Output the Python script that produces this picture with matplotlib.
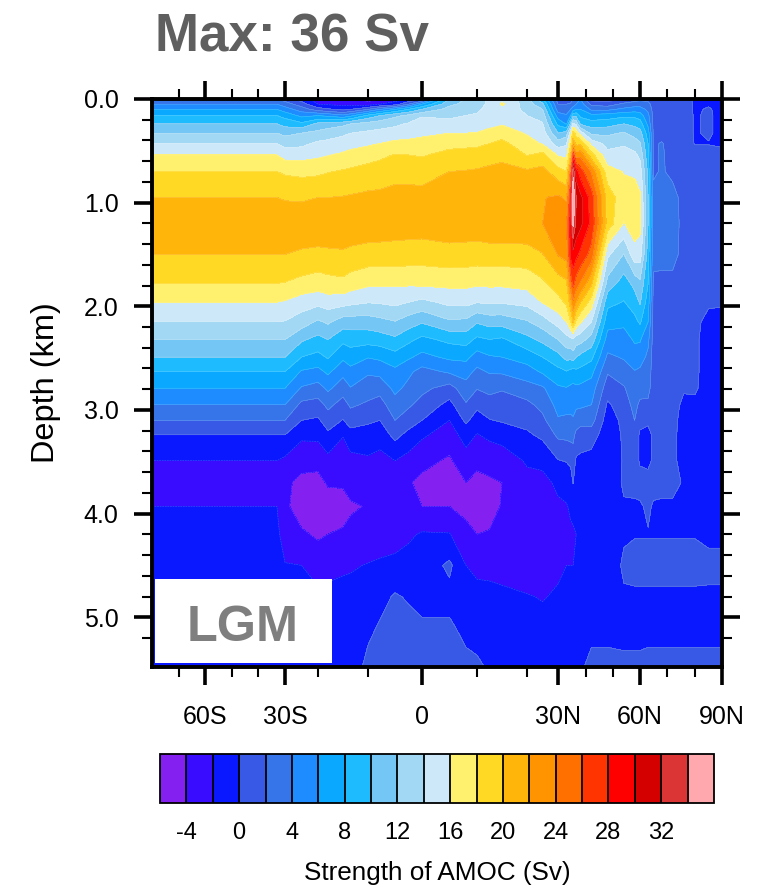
import numpy as np
import matplotlib
matplotlib.use('Agg')
import matplotlib.pyplot as plt
from matplotlib.colors import ListedColormap, BoundaryNorm
from matplotlib.cm import ScalarMappable
from matplotlib.patches import Rectangle

plt.rcParams['font.family'] = ['Liberation Sans', 'DejaVu Sans']
plt.rcParams['axes.unicode_minus'] = False

# depth rows (km)
depth = [0, .05, .1, .16, .24, .33, .43, .54, .7, .95, 1.2, 1.5, 1.78, 1.96, 2.15,
         2.32, 2.49, 2.63, 2.79, 2.95, 3.1, 3.24, 3.49, 3.7, 3.93, 4.2, 4.5, 4.8, 5.1, 5.48]

lat = [-80, -33, -30, -25, -20, -18, -15, -13.5, -10, -7.8, -5, -2.5, 0, 5, 8, 10, 12.5, 15, 20, 25, 30,
       33, 34.5, 35.4, 36.5, 38, 42, 48, 54, 58, 60, 63, 65, 68, 72, 76, 80, 85, 90]

# one line per latitude, top to bottom (Sv)
amoc = [
    [2, 4, 6, 8, 10, 12, 14, 16, 18, 20, 21.5, 20, 18, 16, 14, 12, 10, 8, 6, 4, 2, 0, -2, -3, -2, -1.5, -1.2, -1, -1, -1],
    [2, 4, 6, 8, 10, 12, 14, 16, 18, 20, 21.5, 20, 18, 16, 14, 12, 10, 8, 6, 4, 2, 0, -2, -3, -2, -1.5, -1.2, -1, -1, -1],
    [1, 3, 5, 7.3, 9.3, 11.5, 13.3, 15.2, 17.7, 19.8, 21.4, 20, 17.9, 15.8, 13.9, 12, 10, 8, 6, 4, 2, 0, -2.4, -3.6, -3.6, -3, -1.9, -1.3, -1, -1],
    [-1, 1, 3, 5.5, 8.5, 12, 13.5, 15.2, 17.5, 19.7, 21.4, 19.7, 17.4, 15, 13, 10.3, 8, 5.8, 3.8, 1.5, 0, -1.6, -3.3, -4.5, -5, -3.7, -2, -1.4, -1.1, -1],
    [-3, -2, 1, 6, 10.5, 12.6, 14.4, 15.6, 17.6, 20, 21.5, 19.5, 17, 14.6, 11.7, 9.4, 7.4, 5.4, 3.2, 1.2, -.3, -1.5, -3.5, -4.5, -5, -4.3, -2.8, -1.6, -1.2, -1],
    [-3, -2.3, .3, 5.5, 11, 13, 14.6, 15.9, 17.9, 20, 21.5, 19.6, 17.3, 15, 12.3, 10, 8.2, 6.4, 4.4, 2.5, 1, -.4, -2.6, -3.8, -4.8, -4, -2.6, -1.5, -1.2, -1],
    [-3, -2.5, -.5, 4.5, 11.5, 13.6, 15, 16.3, 18.2, 20.1, 21.5, 19.7, 17.5, 14.8, 11, 8.5, 6.4, 4.6, 2.9, 1.2, -.1, -1.9, -3, -3.8, -4.6, -3.8, -2.3, -1.4, -1.1, -1],
    [-3.5, -2.7, 0, 5.5, 12, 14, 15.3, 16.6, 18.4, 20.2, 21.4, 19.5, 17, 14.5, 11, 8.8, 7, 5.4, 3.9, 2.3, .9, -.8, -2.6, -3.4, -4.2, -3.6, -2.2, -1.4, -1.1, -1],
    [-5, -3, 2, 8.5, 12.8, 14.4, 15.7, 17.1, 18.8, 20.4, 21.3, 19.2, 16.4, 14.1, 11, 8.8, 6.1, 4.3, 2.9, 1.7, .3, -.8, -2.3, -3.2, -3.9, -3.2, -1.9, -1.2, -.4, .5],
    [-4, -2, 4, 10, 13.2, 14.6, 16, 17.5, 19.1, 20.4, 21.2, 19.2, 16.3, 14.2, 11.4, 9, 6.4, 4.6, 2.7, 1.2, 0, -1.2, -2.6, -3.3, -3.7, -3, -1.7, -.6, .2, .7],
    [-3, -1, 6, 11.5, 13.6, 14.9, 16.5, 18.1, 19.5, 20.5, 21, 19.2, 16.3, 14.5, 11.9, 9.6, 7.2, 5.5, 4.5, 3.2, 2, .6, -2, -3, -3.5, -2.8, -1.5, .2, .8, 1],
    [-2, 2, 8, 12.5, 14.2, 15.3, 16.5, 18, 19.5, 20.5, 21, 19.1, 16.3, 14, 11, 8.5, 6.3, 4.4, 3.5, 2.3, 1, -.6, -2.7, -3.8, -3.8, -2.3, -1.3, -.2, .6, 1],
    [-1, 6, 10, 13.8, 14.9, 15.7, 16.5, 17.8, 19.4, 20.5, 21, 19, 16.4, 13.5, 10.2, 7.5, 5.4, 3.3, 2.5, 1.3, 0, -1.7, -3.4, -4.5, -4, -1.8, -1.2, -.6, .3, 1],
    [10, 11.5, 12.8, 13.6, 14.6, 16, 17.3, 18.7, 20, 20.9, 21.2, 19.3, 16.5, 14.5, 11.7, 8.5, 6.4, 4.3, 1.2, -.6, -2, -2.9, -4.3, -5, -4, -1.9, .4, -.6, .3, 1],
    [12, 12.6, 13.3, 14, 14.8, 16, 17.4, 18.9, 20.1, 21, 21.2, 19.2, 16.5, 14.6, 11.5, 8.8, 6.5, 4.8, 3.2, 1.8, .4, -1.2, -2.8, -4, -4.6, -3.4, -2, -1.2, -.5, .5],
    [13, 13.3, 13.7, 14.2, 15, 16.1, 17.5, 19, 20.2, 21, 21.2, 19.1, 16.3, 14.1, 10.2, 7.6, 5.1, 3.5, 2.1, .5, -1, -2.1, -3.5, -4.6, -5, -4, -2.4, -1.5, -.7, .3],
    [14.3, 14.4, 14.5, 14.8, 15.4, 16.6, 18, 19.3, 20.4, 21.2, 21.4, 19.2, 16.4, 14.3, 10.8, 8, 5.8, 4.2, 2.6, 1.1, -.1, -1.6, -3.2, -4.3, -4.5, -3.9, -2.5, -1.5, -.8, -.2],
    [15.5, 16.3, 15.3, 15.4, 15.8, 17.2, 18.5, 19.5, 20.6, 21.4, 21.6, 19.1, 16.4, 14.2, 10.8, 7.7, 6, 4.3, 2.2, 1, .2, -1.3, -3, -4, -3.9, -3.8, -2.7, -1.6, -1, -.6],
    [13, 13, 13.5, 14, 14.6, 15.8, 16.8, 17.9, 20.3, 21.4, 21.6, 19.2, 16.7, 14.6, 11.8, 9.4, 6.9, 5.1, 3.2, 1.5, .6, -.3, -1.8, -2.5, -3, -3.1, -3, -1.9, -1.4, -1.2],
    [8, 10.5, 12, 13.2, 14.2, 15, 15.8, 18.6, 20.7, 21.9, 22, 19.9, 17.6, 16.1, 13, 10.5, 8, 6.3, 3.7, 2.6, 1.5, .4, -1.5, -2.6, -3, -3.2, -2.8, -2.1, -1.5, -1.2],
    [1, 2, 3, 5, 7.5, 10, 13, 15.8, 18.8, 22.3, 23, 22.1, 19, 17.3, 14.8, 12, 9.3, 7.4, 5.7, 4.6, 3.8, 2.4, -.1, -1.6, -2.3, -2.4, -2.3, -1.8, -1.5, -1],
    [-1, 2, 3, 4.2, 5.8, 11, 13.7, 15.5, 18, 21.7, 23.7, 22.7, 19.6, 18.3, 16, 13.3, 10.6, 7.9, 5.9, 4.7, 3.6, 2.5, .1, -1.4, -2.1, -2.2, -2, -1.6, -1.5, -.5],
    [0, 2.5, 4, 6, 10.5, 15, 17.5, 20, 24.5, 28, 29, 28.5, 24.5, 21, 18, 13.5, 10.5, 7.5, 5.6, 4.6, 3.6, 2.6, .4, -1, -1.8, -2.2, -2, -1.6, -1.5, -.5],
    [2, 3, 5, 9.5, 14.5, 18.8, 21.3, 27, 33.4, 35.9, 34.6, 29.3, 26.6, 23.7, 20.2, 13.8, 11, 7.2, 5.5, 4.6, 3.8, 2.5, 1, .1, -1.6, -2.2, -2, -1.6, -1.4, -.6],
    [3, 4, 6, 9.5, 13.5, 17.3, 19.5, 23, 29, 32, 31.5, 28.5, 25, 22, 17.5, 13, 10, 7.6, 5.6, 4.4, 3, 1.5, -.3, -1.2, -1.8, -2, -1.8, -1.6, -1.5, -1],
    [4, 5, 6, 7.5, 9.7, 15, 19.6, 23.4, 26.9, 30.6, 30.6, 27.5, 23.8, 20.1, 16.2, 12.8, 9.4, 7.4, 5.5, 4.4, 2.6, 1.2, -.5, -1, -1.6, -1.9, -1.7, -1.6, -1.5, -.3],
    [-1, 1.5, 3.6, 6.6, 9, 11.5, 15.4, 18.8, 23.8, 27, 27.4, 25.2, 20.4, 17.1, 14, 11.2, 8.5, 6.6, 5, 4, 2.8, 1, -.8, -1.2, -1.6, -1.8, -1.6, -1.7, -.6, .6],
    [-1, 1, 3.5, 7, 9.2, 11.6, 13.3, 14.6, 16.8, 19.2, 19.2, 14.4, 11.2, 8.6, 6.7, 5.2, 3.6, 2.2, .9, -.3, -1, -1.3, -1.5, -1.5, -1.5, -1.5, -1.6, -1.7, -.6, .6],
    [0, 2.5, 4.5, 7.5, 10, 12.2, 13.7, 15, 15.9, 16.7, 15.9, 11.9, 9, 7.9, 6.5, 5, 4.2, 3.1, 1.8, 1, .5, .3, .2, .3, -.2, -.3, .4, -.3, -.7, .5],
    [1, 3, 5, 7.5, 9.5, 11.3, 12.9, 14.5, 15.7, 16.8, 17, 15.3, 10.6, 9, 7.4, 6.3, 5, 3.9, 3.2, 2.6, 2, 1.3, .8, .4, -.2, -.1, .6, -.3, -.7, .5],
    [1.5, 3, 5, 7, 9, 10.8, 12.2, 13.5, 15, 16.3, 16.6, 15, 11.5, 10.2, 8.3, 6.2, 5, 3.6, 2.8, 1.6, .6, -.3, -.2, .6, -.2, -.1, .6, -.3, -.7, .5],
    [1.5, 2.5, 3.5, 4.5, 5.5, 7, 8, 8.5, 9.5, 10, 10, 9, 8, 7, 6, 4.5, 3.5, 3, 2.6, 1.6, .3, -.5, -.4, .6, .3, -.1, .6, -.3, -.6, .6],
    [1, 1.2, 1.3, 1.4, 1.5, 1.6, 1.6, 1.6, 1.7, 2.6, 2.7, 2.6, 1.6, 1.4, 1.3, 1.2, 1.1, 1.1, 1, .8, .4, .3, .3, .6, -.2, -.1, .6, -.3, -.6, .6],
    [1, 1, 1, 1, 1, 1.1, 2.2, 2.3, 2.2, 2.6, 2.7, 2.6, 1.5, 1, 1, 1, .8, .8, .8, .8, .6, .4, .3, .6, -.3, -.1, .6, -.3, -.6, .6],
    [1, 1, 1, 1, 1, 1, 1, 1.2, 1.6, 2.6, 2.7, 2.6, 1.5, 1, 1, 1, .9, .9, .8, .7, .4, .3, .3, .6, -.3, -.1, .6, -.3, -.6, .6],
    [1, 1, 1, 1, 1, 1, 1, 1, 1, 1.4, 1.5, 1.4, 1, .9, .4, .3, .3, .3, .2, -.4, -.5, -.5, -.5, -.2, -.2, -.1, .6, -.3, -.6, .6],
    [-.4, -.3, -.3, -.2, -.2, -.2, -.1, .8, 1, 1, 1, 1, 1, .8, .5, .3, .3, .3, .2, -.3, -.5, -.5, -.5, -.2, -.3, -.1, .6, -.3, -.6, .6],
    [-.6, -.2, .2, .3, .3, .3, -.1, .8, 1, 1, 1, 1, 1, .3, -.6, -.7, -.7, -.7, -.7, -.7, -.7, -.7, -.7, -.7, -.7, -.4, .5, -.3, -.6, .6],
    [-.8, -.8, -.6, -.6, -.6, -.6, -.4, .8, 1, 1, 1, 1, .8, .2, -.6, -.7, -.7, -.7, -.7, -.7, -.7, -.7, -.7, -.7, -.7, -.4, .5, -.3, -.6, .6],
]

levels = list(range(-6, 38, 2))
colors = ['#8420F0', '#3A0CFF', '#0A18FF', '#3858E6', '#3674EA', '#1E8CFF', '#0AA8FF',
          '#1EBCFF', '#74C6F4', '#A2D8F4', '#CDE9F9', '#FFF06E', '#FFD924', '#FFB50A',
          '#FF9400', '#FF7000', '#FF3400', '#FF0000', '#D40000', '#DC3535', '#FFA8AE']

xticks = [-60, -30, 0, 30, 60, 90]
xticklabels = ['60S', '30S', '0', '30N', '60N', '90N']
xminor = [-70, -50, -40, -20, -10, 10, 20, 40, 50, 70, 80]
yticks = [0, 1, 2, 3, 4, 5]
cbar_ticks = [-4, 0, 4, 8, 12, 16, 20, 24, 28, 32]

# the latitude axis is stretched around the tropics
scale_lat = [-80, -60, -50, -40, -30, -20, -10, 0, 10, 20, 30, 40, 50, 60, 70, 80, 90]
scale_pos = [152, 205, 232, 258, 285, 318, 368, 422, 477, 527, 558, 586, 613, 640, 667, 695, 722]

def fwd(v):
    return np.interp(v, scale_lat, scale_pos)

def inv(v):
    return np.interp(v, scale_pos, scale_lat)

W, H = 773, 888
fig = plt.figure(figsize=(W / 100, H / 100), dpi=100)
ax = fig.add_axes([152 / W, 1 - 667 / H, 570 / W, 568 / H])

cmap = ListedColormap(colors)
norm = BoundaryNorm(levels, cmap.N)
Z = np.array(amoc).T
ax.contourf(lat, depth, Z, levels=levels, cmap=cmap, norm=norm)
ax.contour(lat, depth, Z, levels=levels, colors='white', linewidths=0.35, alpha=0.3)

ax.set_xscale('function', functions=(fwd, inv))
ax.set_xlim(-80, 90)
ax.set_ylim(5.48, 0)

ax.set_xticks(xticks)
ax.set_xticklabels(xticklabels, fontsize=18)
ax.set_xticks(xminor, minor=True)
ax.set_yticks(yticks)
ax.set_yticklabels(['%.1f' % t for t in yticks], fontsize=18)
ax.set_yticks(np.arange(0, 5.4, 0.2), minor=True)
ax.tick_params(which='major', direction='out', length=13, width=2.6, top=True, right=True, pad=11)
ax.tick_params(which='minor', direction='out', length=7.5, width=1.5, top=True, right=True)
ax.tick_params(axis='x', which='major', pad=14.5)
for s in ax.spines.values():
    s.set_linewidth(2.8)
ax.set_ylabel('Depth (km)', fontsize=23.4)
ax.yaxis.set_label_coords(-0.159, 0.5)

# LGM box
ax.add_patch(Rectangle((155 / W, 1 - 663 / H), 177 / W, 84 / H, transform=fig.transFigure,
                       facecolor='white', edgecolor='none', zorder=5))
fig.text(243 / W, 1 - 641 / H, 'LGM', fontsize=36.3, fontweight='bold', color='#7f7f7f',
         ha='center', va='baseline', zorder=6)

fig.text(155 / W, 1 - 52 / H, 'Max: 36 Sv', fontsize=38.2, fontweight='bold', color='#5f5f5f',
         ha='left', va='baseline')

cax = fig.add_axes([160 / W, 1 - 803 / H, 554 / W, 49 / H])
cb = fig.colorbar(ScalarMappable(norm=norm, cmap=cmap), cax=cax, orientation='horizontal',
                  spacing='uniform', ticks=cbar_ticks, drawedges=True)
cb.dividers.set_color('black')
cb.dividers.set_linewidth(1.3)
cb.outline.set_linewidth(1.3)
cb.ax.tick_params(length=0, labelsize=17, pad=14)
cb.ax.minorticks_off()
fig.text(437 / W, 1 - 873 / H, 'Strength of AMOC (Sv)', fontsize=18.8, ha='center', va='center')

fig.savefig('out.png', dpi=100)
